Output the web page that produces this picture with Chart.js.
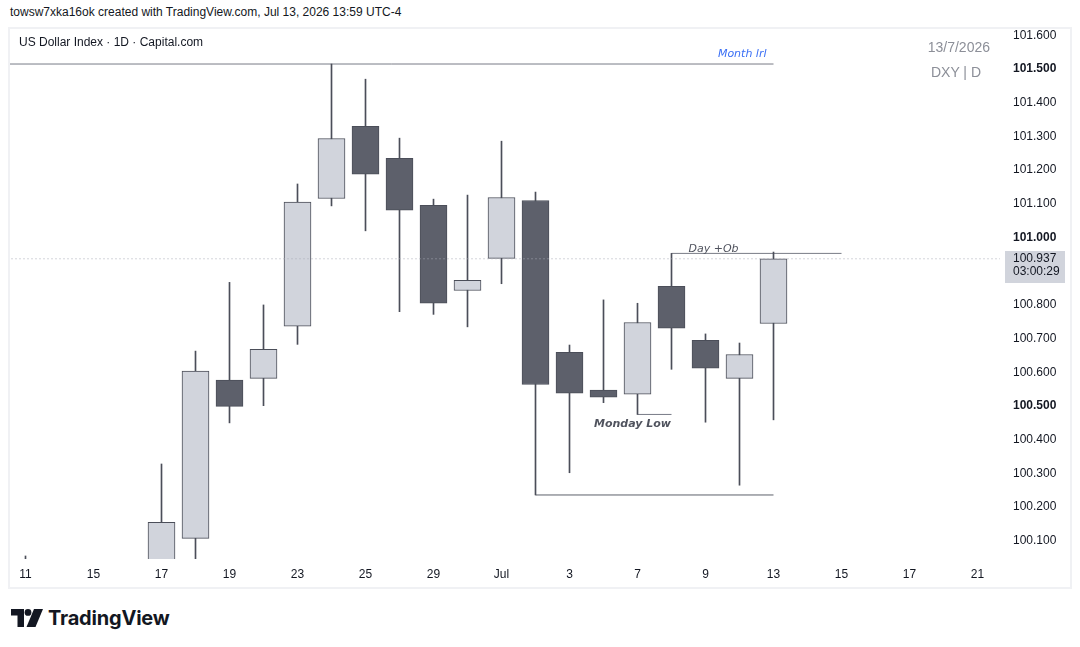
<!DOCTYPE html>
<html><head><meta charset="utf-8">
<script src="https://cdn.jsdelivr.net/npm/chart.js@4.4.1/dist/chart.umd.min.js"></script>
<style>
html,body{margin:0;padding:0;background:#fff;width:1080px;height:647px;overflow:hidden;font-family:"Liberation Sans",Arial,sans-serif;color:#131722;}
#hdr{position:absolute;left:10px;top:5px;font-size:12px;white-space:nowrap;}
#frame{position:absolute;left:8px;top:27px;width:1064px;height:562px;box-sizing:border-box;border:2px solid #f0f1f4;}
#title{position:absolute;left:19px;top:35px;font-size:12px;white-space:nowrap;}
#date{position:absolute;right:90px;top:39px;font-size:14px;color:#8c8f98;white-space:nowrap;}
#sym{position:absolute;right:99px;top:64px;font-size:14px;color:#8c8f98;white-space:nowrap;}
#wrap{position:absolute;left:10px;top:30px;width:1060px;height:557px;}
#logo{position:absolute;left:11px;top:607px;height:22px;display:flex;align-items:center;}
#logo span{font-family:Inter,"Liberation Sans",sans-serif;font-weight:700;font-size:20px;letter-spacing:-0.2px;margin-left:5px;color:#131722;}
</style></head>
<body>
<div id="hdr">towsw7xka16ok created with TradingView.com, Jul 13, 2026 13:59 UTC-4</div>
<div id="frame"></div>
<div id="wrap"><canvas id="c"></canvas></div>
<div id="title">US Dollar Index · 1D · Capital.com</div>
<div id="date">13/7/2026</div>
<div id="sym">DXY | D</div>
<div id="logo"><svg width="32" height="18" viewBox="0 0 32 18"><path d="M0 0h13v18H6.5V6.5H0z" fill="#131722"/><circle cx="17" cy="3.4" r="3.4" fill="#131722"/><path d="M23 0h9l-7.5 18h-9z" fill="#131722"/></svg><span>TradingView</span></div>
<script>
// ---- data ----
const dayLabels = ['Jun 11','Jun 12','Jun 15','Jun 16','Jun 17','Jun 18','Jun 19','Jun 22','Jun 23','Jun 24','Jun 25','Jun 26','Jun 29','Jun 30','Jul 1','Jul 2','Jul 3','Jul 6','Jul 7','Jul 8','Jul 9','Jul 10','Jul 13'];
const opens  = [99.98, 99.95, 99.90, 99.88, 99.97, 100.107, 100.577, 100.582, 100.737, 101.116, 101.330, 101.235, 101.096, 100.843, 100.938, 101.110, 100.659, 100.547, 100.535, 100.855, 100.695, 100.582, 100.745];
const highs  = [100.055, 100.02, 100.00, 100.01, 100.328, 100.663, 100.867, 100.800, 101.159, 101.515, 101.470, 101.295, 101.114, 101.126, 101.286, 101.135, 100.681, 100.815, 100.805, 100.953, 100.714, 100.687, 100.957];
const lows   = [99.90, 99.86, 99.80, 99.82, 99.93, 100.02, 100.450, 100.501, 100.683, 101.094, 101.020, 100.780, 100.772, 100.735, 100.863, 100.236, 100.302, 100.510, 100.475, 100.609, 100.452, 100.265, 100.459];
const closes = [99.95, 99.90, 99.88, 99.97, 100.155, 100.604, 100.499, 100.668, 101.105, 101.294, 101.188, 101.081, 100.805, 100.873, 101.119, 100.564, 100.538, 100.526, 100.748, 100.731, 100.612, 100.653, 100.937];
const xTickIndex  = [0,2,4,6,8,10,12,14,16,18,20,22,24,26,28];
const xTickLabels = ['11','15','17','19','23','25','29','Jul','3','7','9','13','15','17','21'];
const yTicks = [100.1,100.2,100.3,100.4,100.5,100.6,100.7,100.8,100.9,101.0,101.1,101.2,101.3,101.4,101.5,101.6];
const levelNames  = ['Month lrl','Day +Ob','','Monday Low'];
const levelValues = [101.515, 100.953, 100.236, 100.475];
const levelStart  = [-3, 19, 15, 18];
const levelEnd    = [22, 24, 22, 19];
const countdown = '03:00:29';

// ---- styles ----
const UP = '#d1d4dc', DOWN = '#5d606b', EDGE = '#4b4e59';
const idx = closes.map((_, i) => i);

const datasets = [];
levelValues.forEach((v, k) => {
  datasets.push({type:'line', data:[{x:levelStart[k], y:v},{x:levelEnd[k], y:v}], borderColor: k===2 ? '#5d606b' : '#787b86', borderWidth:1, pointRadius:0, clip:0, order:3});
});
datasets.push({type:'bar', data: idx.map(i => ({x:i, y:[lows[i], highs[i]]})), backgroundColor: EDGE, borderWidth:0, barThickness:1, grouped:false, clip:0, order:2});
datasets.push({type:'bar', data: idx.map(i => ({x:i, y:[opens[i], closes[i]]})),
  backgroundColor: idx.map(i => closes[i] >= opens[i] ? UP : DOWN), borderColor: EDGE, borderWidth:1, borderSkipped:false,
  barThickness:27, grouped:false, clip:0, order:1});
const last = closes[closes.length-1];
datasets.push({type:'line', data:[{x:-5, y:last},{x:40, y:last}], borderColor:'#a9acb5', borderWidth:1, borderDash:[1,3], pointRadius:0, clip:0, order:0});

const annot = {
  id:'annot',
  afterDatasetsDraw(chart){
    const {ctx, scales:{x, y}} = chart;
    ctx.save();
    ctx.textBaseline = 'alphabetic';
    // Month lrl
    ctx.fillStyle = '#3a6ff5'; ctx.textAlign = 'right';
    ctx.font = 'italic 11px "DejaVu Sans", sans-serif';
    ctx.fillText(levelNames[0], x.getPixelForValue(levelEnd[0]) - 7, y.getPixelForValue(levelValues[0]) - 7);
    // Day +Ob
    ctx.fillStyle = '#50535e'; ctx.textAlign = 'center';
    ctx.font = 'italic 11px "DejaVu Sans", sans-serif';
    ctx.fillText(levelNames[1], (x.getPixelForValue(levelStart[1]) + x.getPixelForValue(levelEnd[1]))/2 - 43, y.getPixelForValue(levelValues[1]) - 1);
    // Monday Low
    ctx.font = 'italic bold 11px "DejaVu Sans", sans-serif';
    ctx.fillText(levelNames[3], x.getPixelForValue(levelStart[3]) - 5, y.getPixelForValue(levelValues[3]) + 13);
    ctx.restore();
  },
  afterDraw(chart){
    const {ctx, scales:{y}, chartArea} = chart;
    const py = Math.round(y.getPixelForValue(last));
    ctx.save();
    ctx.fillStyle = '#d1d4dc';
    ctx.fillRect(chartArea.right + 5, py - 8, 60, 32);
    ctx.fillStyle = '#131722';
    ctx.font = '12px "Liberation Sans", sans-serif';
    ctx.textAlign = 'left'; ctx.textBaseline = 'middle';
    ctx.fillText(last.toFixed(3), chartArea.right + 13, py);
    ctx.fillText(countdown, chartArea.right + 13, py + 13);
    ctx.restore();
  }
};

new Chart(document.getElementById('c'), {
  data: { datasets },
  options: {
    responsive:true, maintainAspectRatio:false, animation:false,
    layout:{padding:0},
    plugins:{legend:{display:false}, tooltip:{enabled:false}},
    scales:{
      x:{type:'linear', offset:false, min:-15.5/34, max:-15.5/34 + 990/34,
        grid:{display:false, drawTicks:false}, border:{display:false},
        afterBuildTicks(s){ s.ticks = xTickIndex.map(v => ({value:v})); },
        afterFit(s){ s.height = 28; s.paddingLeft = 0; s.paddingRight = 0; },
        ticks:{autoSkip:false, maxRotation:0, padding:8, color:'#131722', font:{family:'"Liberation Sans", sans-serif', size:12},
          callback(v){ const k = xTickIndex.indexOf(v); return k >= 0 ? xTickLabels[k] : ''; }}
      },
      y:{type:'linear', position:'right', min:100.046, max:101.616,
        grid:{display:false, drawTicks:false}, border:{display:false},
        afterBuildTicks(s){ s.ticks = yTicks.map(v => ({value:v})); },
        afterFit(s){ s.width = 70; s.paddingTop = 0; s.paddingBottom = 0; },
        ticks:{padding:13, color:'#131722',
          font(c){ const v = c.tick ? c.tick.value : 0; const b = Math.abs(v*2 - Math.round(v*2)) < 1e-6; return {family:'"Liberation Sans", sans-serif', size:12, weight: b ? 'bold' : 'normal'}; },
          callback(v){ return Number(v).toFixed(3); }}
      }
    }
  },
  plugins:[annot]
});
</script>
</body></html>
